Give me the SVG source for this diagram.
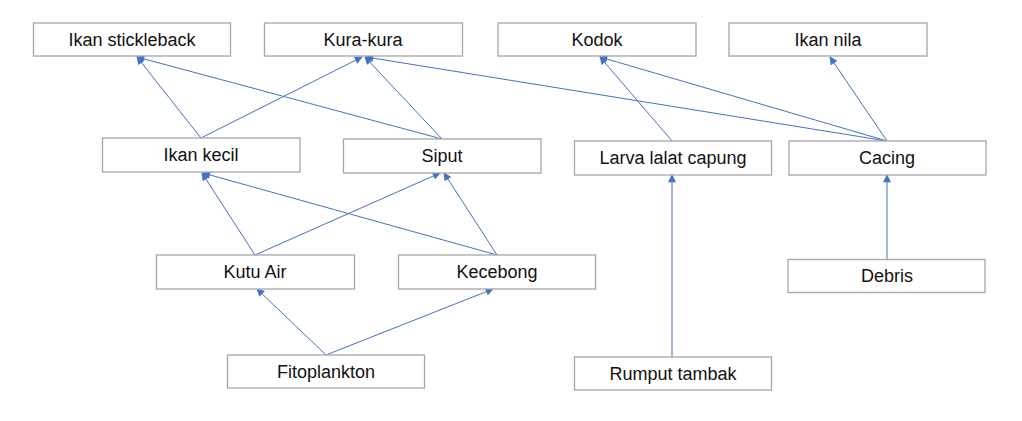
<svg xmlns="http://www.w3.org/2000/svg" width="1022" height="421" viewBox="0 0 1022 421">
<style>
.box{fill:#fff;stroke:#a6a6a6;stroke-width:1.3}
.lbl{font-family:"Liberation Sans",Arial,sans-serif;font-size:18px;fill:#111;text-anchor:middle}
.edge{stroke:#4472c4;stroke-width:1;fill:none;marker-end:url(#ah)}
</style>
<defs>
<marker id="ah" viewBox="0 0 10 10" refX="9" refY="5" markerWidth="10" markerHeight="8" markerUnits="userSpaceOnUse" orient="auto">
<path d="M0,0 L10,5 L0,10 z" fill="#4472c4"/>
</marker>
</defs>
<rect width="1022" height="421" fill="#fff"/>
<g id="connectors">
<line class="edge" x1="201" y1="138" x2="137" y2="57"/>
<line class="edge" x1="442" y1="139" x2="137" y2="57"/>
<line class="edge" x1="201" y1="138" x2="362" y2="57"/>
<line class="edge" x1="442" y1="139" x2="365" y2="57"/>
<line class="edge" x1="887" y1="141" x2="366" y2="57"/>
<line class="edge" x1="887" y1="141" x2="600" y2="57"/>
<line class="edge" x1="672" y1="141" x2="600" y2="57"/>
<line class="edge" x1="887" y1="141" x2="830" y2="57"/>
<line class="edge" x1="887" y1="259" x2="887" y2="175"/>
<line class="edge" x1="672" y1="357" x2="672" y2="175"/>
<line class="edge" x1="255" y1="255" x2="202" y2="173"/>
<line class="edge" x1="255" y1="255" x2="440" y2="173"/>
<line class="edge" x1="497" y1="255" x2="203" y2="173"/>
<line class="edge" x1="497" y1="255" x2="444" y2="173"/>
<line class="edge" x1="326" y1="355" x2="257" y2="289"/>
<line class="edge" x1="326" y1="355" x2="493" y2="289"/>
</g>
<g id="n-stickleback"><rect class="box" x="33.5" y="23" width="197" height="33"/><text class="lbl" x="132" y="46">Ikan stickleback</text></g>
<g id="n-kurakura"><rect class="box" x="264.5" y="23" width="198" height="33"/><text class="lbl" x="363" y="46">Kura-kura</text></g>
<g id="n-kodok"><rect class="box" x="498" y="23" width="198" height="33"/><text class="lbl" x="597" y="46">Kodok</text></g>
<g id="n-ikannila"><rect class="box" x="729" y="23" width="198" height="33"/><text class="lbl" x="828" y="46">Ikan nila</text></g>
<g id="n-ikankecil"><rect class="box" x="102.5" y="138" width="197.5" height="34"/><text class="lbl" x="201" y="161">Ikan kecil</text></g>
<g id="n-siput"><rect class="box" x="343.5" y="139" width="197.5" height="34"/><text class="lbl" x="442" y="162">Siput</text></g>
<g id="n-larva"><rect class="box" x="574.5" y="141" width="197" height="34"/><text class="lbl" x="673" y="164">Larva lalat capung</text></g>
<g id="n-cacing"><rect class="box" x="789" y="141" width="197" height="34"/><text class="lbl" x="887" y="164">Cacing</text></g>
<g id="n-kutuair"><rect class="box" x="156.5" y="255" width="198" height="34"/><text class="lbl" x="255" y="278">Kutu Air</text></g>
<g id="n-kecebong"><rect class="box" x="398.5" y="255" width="197" height="34"/><text class="lbl" x="497" y="278">Kecebong</text></g>
<g id="n-debris"><rect class="box" x="788" y="259.5" width="197" height="33"/><text class="lbl" x="887" y="282">Debris</text></g>
<g id="n-fitoplankton"><rect class="box" x="227.5" y="355" width="197" height="33"/><text class="lbl" x="326" y="378">Fitoplankton</text></g>
<g id="n-rumput"><rect class="box" x="574.5" y="357" width="197" height="33"/><text class="lbl" x="673" y="380">Rumput tambak</text></g>
</svg>
